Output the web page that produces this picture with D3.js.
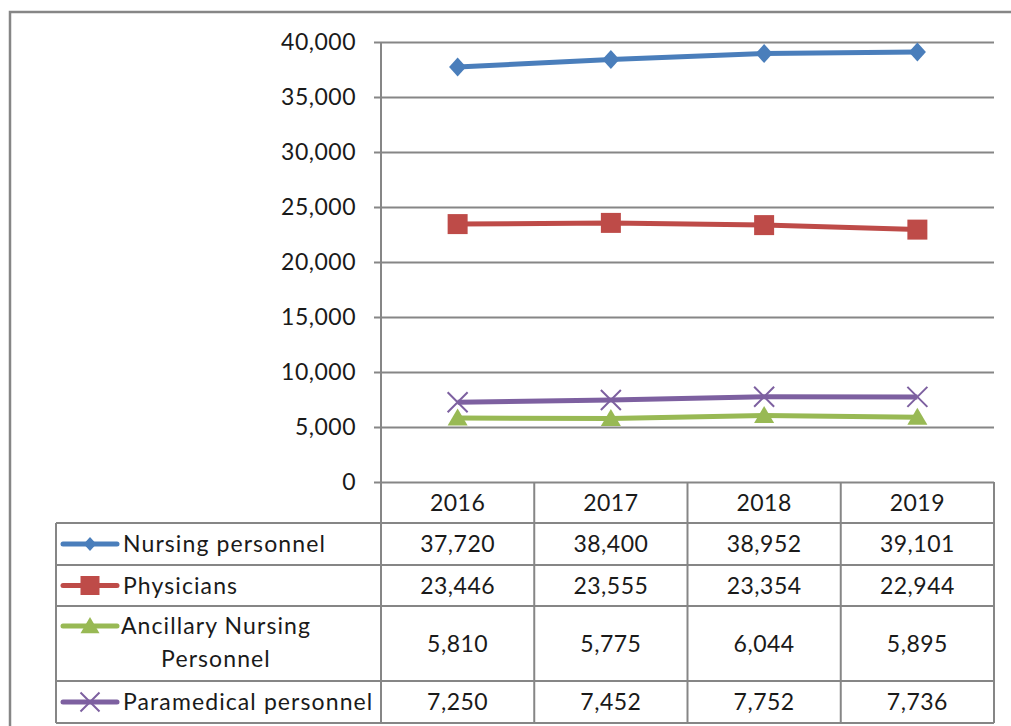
<!DOCTYPE html>
<html>
<head>
<meta charset="utf-8">
<script src="https://cdn.jsdelivr.net/npm/d3@7"></script>
<style>
  body { margin: 0; background: #fff; }
  svg { display: block; }
  text { font-family: Lato, "Open Sans", sans-serif; fill: #1a1a1a; }
</style>
</head>
<body>
<script>
// Data
var years = ['2016', '2017', '2018', '2019'];
var seriesNames = ['Nursing personnel', 'Physicians', 'Ancillary Nursing Personnel', 'Paramedical personnel'];
var nursing = [37720, 38400, 38952, 39101];
var physicians = [23446, 23555, 23354, 22944];
var ancillary = [5810, 5775, 6044, 5895];
var paramedical = [7250, 7452, 7752, 7736];
var yTicks = [0, 5000, 10000, 15000, 20000, 25000, 30000, 35000, 40000];

// Layout
var WIDTH = 1011;
var HEIGHT = 726;
var PLOT_LEFT = 381;
var PLOT_RIGHT = 994;
var PLOT_TOP = 42;
var PLOT_BOTTOM = 482;
var TABLE_LEFT = 56;
var HEADER_H = 41;
var ROW_H = [42, 41, 75, 42];
var GRID_COLOR = '#868686';
var FONT_SIZE = 23;
var LABEL_SPACING = 1.1;
var NUM_SPACING = 0.5;

var series = [
  { name: seriesNames[0], lines: ['Nursing personnel'], values: nursing, color: '#4A7EBB', shape: 'diamond' },
  { name: seriesNames[1], lines: ['Physicians'], values: physicians, color: '#BE4B48', shape: 'square' },
  { name: seriesNames[2], lines: ['Ancillary Nursing', 'Personnel'], values: ancillary, color: '#98B954', shape: 'triangle' },
  { name: seriesNames[3], lines: ['Paramedical personnel'], values: paramedical, color: '#7D60A0', shape: 'x' }
];

var x = d3.scaleBand().domain(years).range([PLOT_LEFT, PLOT_RIGHT]);
var y = d3.scaleLinear().domain([0, 40000]).range([PLOT_BOTTOM, PLOT_TOP]);
var fmt = d3.format(',');

var svg = d3.select('body').append('svg')
  .attr('width', WIDTH)
  .attr('height', HEIGHT);

// outer chart frame (cropped on right and bottom)
svg.append('rect')
  .attr('x', 10)
  .attr('y', 12)
  .attr('width', WIDTH + 20)
  .attr('height', HEIGHT + 20)
  .attr('fill', 'none')
  .attr('stroke', GRID_COLOR)
  .attr('stroke-width', 2.5);

// gridlines + y axis labels
var yAxis = d3.axisLeft(y)
  .tickValues(yTicks)
  .tickFormat(fmt)
  .tickSize(-(PLOT_RIGHT - PLOT_LEFT))
  .tickPadding(0);

var gy = svg.append('g')
  .attr('transform', 'translate(' + PLOT_LEFT + ',0)')
  .call(yAxis);
gy.select('.domain').remove();
gy.selectAll('.tick line')
  .attr('x1', -7)
  .attr('stroke', GRID_COLOR)
  .attr('stroke-width', 2);
gy.selectAll('.tick text')
  .attr('x', -25)
  .attr('dy', '0.34em')
  .attr('font-size', FONT_SIZE)
  .attr('font-family', 'Lato')
  .attr('letter-spacing', NUM_SPACING)
  .attr('fill', '#1a1a1a');

// table rows y positions
var rowTops = [PLOT_BOTTOM + HEADER_H];
ROW_H.forEach(function (h, i) { rowTops.push(rowTops[i] + h); });
var TABLE_BOTTOM = rowTops[rowTops.length - 1];

var grid = svg.append('g')
  .attr('stroke', GRID_COLOR)
  .attr('stroke-width', 2)
  .attr('fill', 'none');

// vertical axis line, extends through table
grid.append('line')
  .attr('x1', PLOT_LEFT).attr('x2', PLOT_LEFT)
  .attr('y1', PLOT_TOP).attr('y2', TABLE_BOTTOM);

// column separators in table
x.domain().forEach(function (d) {
  var xr = x(d) + x.bandwidth();
  grid.append('line')
    .attr('x1', xr).attr('x2', xr)
    .attr('y1', PLOT_BOTTOM).attr('y2', TABLE_BOTTOM);
});

// left edge of table
grid.append('line')
  .attr('x1', TABLE_LEFT).attr('x2', TABLE_LEFT)
  .attr('y1', rowTops[0]).attr('y2', TABLE_BOTTOM);

// horizontal row lines
rowTops.forEach(function (ry) {
  grid.append('line')
    .attr('x1', TABLE_LEFT).attr('x2', PLOT_RIGHT)
    .attr('y1', ry).attr('y2', ry);
});

// header years
svg.append('g').selectAll('text')
  .data(years)
  .join('text')
  .attr('x', function (d) { return x(d) + x.bandwidth() / 2; })
  .attr('y', PLOT_BOTTOM + HEADER_H / 2)
  .attr('dy', '0.36em')
  .attr('text-anchor', 'middle')
  .attr('font-size', FONT_SIZE)
  .attr('letter-spacing', NUM_SPACING)
  .text(function (d) { return d; });

function markerPath(shape, s) {
  if (shape === 'diamond') {
    var w = s * 0.45, h = s * 0.5;
    return 'M0,' + (-h) + 'L' + w + ',0L0,' + h + 'L' + (-w) + ',0Z';
  }
  if (shape === 'square') {
    var q = s / 2;
    return 'M' + (-q) + ',' + (-q) + 'H' + q + 'V' + q + 'H' + (-q) + 'Z';
  }
  if (shape === 'triangle') {
    var t = s / 2;
    return 'M0,' + (-t * 0.95) + 'L' + t + ',' + (t * 0.75) + 'L' + (-t) + ',' + (t * 0.75) + 'Z';
  }
  var k = s / 2;
  return 'M' + (-k) + ',' + (-k) + 'L' + k + ',' + k + 'M' + (-k) + ',' + k + 'L' + k + ',' + (-k);
}

function drawMarker(g, d, size) {
  var p = g.append('path').attr('d', markerPath(d.shape, size));
  if (d.shape === 'x') {
    p.attr('fill', 'none').attr('stroke', d.color).attr('stroke-width', 2);
  } else {
    p.attr('fill', d.color);
  }
}

// series lines
var line = d3.line()
  .x(function (v, i) { return x(years[i]) + x.bandwidth() / 2; })
  .y(function (v) { return y(v); });

var drawOrder = [2, 3, 1, 0];
drawOrder.forEach(function (si) {
  var s = series[si];
  var g = svg.append('g');
  g.append('path')
    .attr('d', line(s.values))
    .attr('fill', 'none')
    .attr('stroke', s.color)
    .attr('stroke-width', 5)
    .attr('stroke-linejoin', 'round');
  s.values.forEach(function (v, i) {
    var m = g.append('g')
      .attr('transform', 'translate(' + (x(years[i]) + x.bandwidth() / 2) + ',' + y(v) + ')');
    drawMarker(m, s, s.shape === 'diamond' ? 19 : 20);
  });
});

// table body: legend keys, labels, values
series.forEach(function (s, r) {
  var top = rowTops[r];
  var h = ROW_H[r];
  var cy = top + h / 2;
  var keyY = s.lines.length > 1 ? top + 20 : cy;

  var key = svg.append('g');
  key.append('line')
    .attr('x1', 63).attr('x2', 117)
    .attr('y1', keyY).attr('y2', keyY)
    .attr('stroke', s.color)
    .attr('stroke-width', 5)
    .attr('stroke-linecap', 'round');
  var km = key.append('g').attr('transform', 'translate(90,' + keyY + ')');
  drawMarker(km, s, s.shape === 'diamond' ? 14 : 19);

  if (s.lines.length > 1) {
    s.lines.forEach(function (t, li) {
      svg.append('text')
        .attr('x', 216)
        .attr('y', keyY + li * 33)
        .attr('dy', '0.36em')
        .attr('text-anchor', 'middle')
        .attr('font-size', FONT_SIZE)
        .attr('letter-spacing', LABEL_SPACING)
        .text(t);
    });
  } else {
    svg.append('text')
      .attr('x', 123)
      .attr('y', cy)
      .attr('dy', '0.36em')
      .attr('font-size', FONT_SIZE)
      .attr('letter-spacing', LABEL_SPACING)
      .text(s.lines[0]);
  }

  svg.append('g').selectAll('text')
    .data(s.values)
    .join('text')
    .attr('x', function (v, i) { return x(years[i]) + x.bandwidth() / 2; })
    .attr('y', cy)
    .attr('dy', '0.36em')
    .attr('text-anchor', 'middle')
    .attr('font-size', FONT_SIZE)
    .attr('letter-spacing', NUM_SPACING)
    .text(function (v) { return fmt(v); });
});
</script>
</body>
</html>
